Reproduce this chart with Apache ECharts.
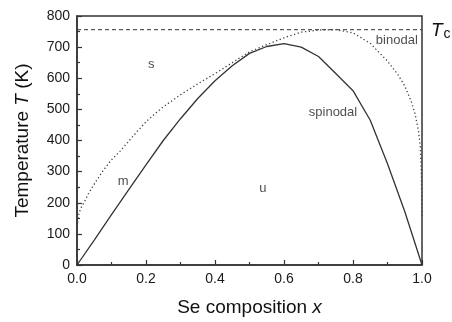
<!DOCTYPE html>
<html>
<head>
<meta charset="utf-8">
<script src="https://cdn.jsdelivr.net/npm/echarts@6/dist/echarts.min.js"></script>
<style>html,body{margin:0;padding:0;background:#fff}#c{width:452px;height:322px}</style>
</head>
<body>
<div id="c"></div>
<script>
var spinodalX = [0, 0.05, 0.1, 0.15, 0.2, 0.25, 0.3, 0.35, 0.4, 0.45, 0.5, 0.55, 0.6, 0.65, 0.7, 0.75, 0.8, 0.85, 0.9, 0.95, 1.0];
var spinodalT = [0, 80, 162, 242, 322, 400, 470, 535, 592, 640, 680, 702, 711, 700, 670, 615, 560, 465, 325, 172, 0];
var binodalX = [0.0, 0.002, 0.005, 0.01, 0.02, 0.035, 0.05, 0.075, 0.1, 0.125, 0.15, 0.175, 0.2, 0.225, 0.25, 0.3, 0.35, 0.4, 0.45, 0.5, 0.55, 0.6, 0.65, 0.7, 0.75, 0.8, 0.85, 0.9, 0.93, 0.95, 0.97, 0.98, 0.99, 0.995, 0.998, 1.0];
var binodalT = [100, 140, 162, 180, 200, 233, 260, 302, 338, 366, 398, 430, 460, 485, 508, 547, 582, 615, 650, 685, 708, 730, 748, 755, 756, 746, 712, 655, 612, 575, 522, 485, 430, 380, 300, 150];
var tcValue = 756;
var regionLabels = ['s', 'm', 'u', 'spinodal', 'binodal'];
var regionX = [0.215, 0.134, 0.539, 0.742, 0.927];
var regionT = [644, 269, 247, 490, 720];
var xTicks = [0, 0.2, 0.4, 0.6, 0.8, 1.0];
var yTicks = [0, 100, 200, 300, 400, 500, 600, 700, 800];

function pairs(xs, ys) { return xs.map(function (x, i) { return [x, ys[i]]; }); }

var chart = echarts.init(document.getElementById('c'), null, {renderer: 'canvas'});
var font = 'Liberation Sans, Arial, sans-serif';
chart.setOption({
  animation: false,
  backgroundColor: '#fff',
  grid: {left: 77, right: 30, top: 16, bottom: 50, show: true, borderColor: '#333', borderWidth: 1.5, backgroundColor: 'transparent'},
  xAxis: {
    type: 'value', min: xTicks[0], max: xTicks[xTicks.length - 1], interval: 0.2,
    name: 'Se composition {i|x}', nameLocation: 'middle', nameGap: 33,
    nameTextStyle: {fontFamily: font, fontSize: 19, color: '#111', rich: {i: {fontFamily: font, fontSize: 19, fontStyle: 'italic', color: '#111'}}},
    axisLine: {lineStyle: {color: '#333', width: 1.5}},
    axisTick: {inside: true, length: 5, lineStyle: {color: '#333', width: 1.2}},
    minorTick: {show: true, splitNumber: 2, length: 3, lineStyle: {color: '#333', width: 1.2}},
    axisLabel: {margin: 7, fontFamily: font, fontSize: 14, color: '#1a1a1a', formatter: function (v) { return v.toFixed(1); }},
    splitLine: {show: false}
  },
  yAxis: {
    type: 'value', min: yTicks[0], max: yTicks[yTicks.length - 1], interval: 100,
    name: 'Temperature {i|T} (K)', nameLocation: 'middle', nameGap: 45, nameRotate: 90,
    nameTextStyle: {fontFamily: font, fontSize: 19, color: '#111', rich: {i: {fontFamily: font, fontSize: 19, fontStyle: 'italic', color: '#111'}}},
    axisLine: {lineStyle: {color: '#333', width: 1.5}},
    axisTick: {inside: true, length: 5, lineStyle: {color: '#333', width: 1.2}},
    minorTick: {show: true, splitNumber: 2, length: 3, lineStyle: {color: '#333', width: 1.2}},
    axisLabel: {margin: 7, fontFamily: font, fontSize: 14, color: '#1a1a1a'},
    splitLine: {show: false}
  },
  series: [
    {type: 'line', data: pairs(spinodalX, spinodalT), showSymbol: false, symbol: 'none', lineStyle: {color: '#333', width: 1.3}},
    {type: 'line', data: pairs(binodalX, binodalT), showSymbol: false, symbol: 'none', lineStyle: {color: '#444', width: 1.3, type: [1.3, 2.5]}},
    {type: 'line', data: [[xTicks[0], tcValue], [xTicks[xTicks.length - 1], tcValue]], showSymbol: false, symbol: 'none', lineStyle: {color: '#333', width: 1, type: [4, 3]}},
    {type: 'scatter', symbolSize: 0, data: regionLabels.map(function (l, i) { return {value: [regionX[i], regionT[i]], name: l}; }),
     label: {show: true, position: 'inside', formatter: function (p) { return p.name; }, fontFamily: font, fontSize: 13, color: '#222'}}
  ],
  graphic: [{
    type: 'text', left: 431, top: 21,
    style: {text: '{t|T}{c|c}', rich: {t: {fontFamily: font, fontSize: 19, fontStyle: 'italic', fill: '#111'}, c: {fontFamily: font, fontSize: 14, fill: '#111', padding: [8, 0, 0, 1]}}}
  }]
});
</script>
</body>
</html>
